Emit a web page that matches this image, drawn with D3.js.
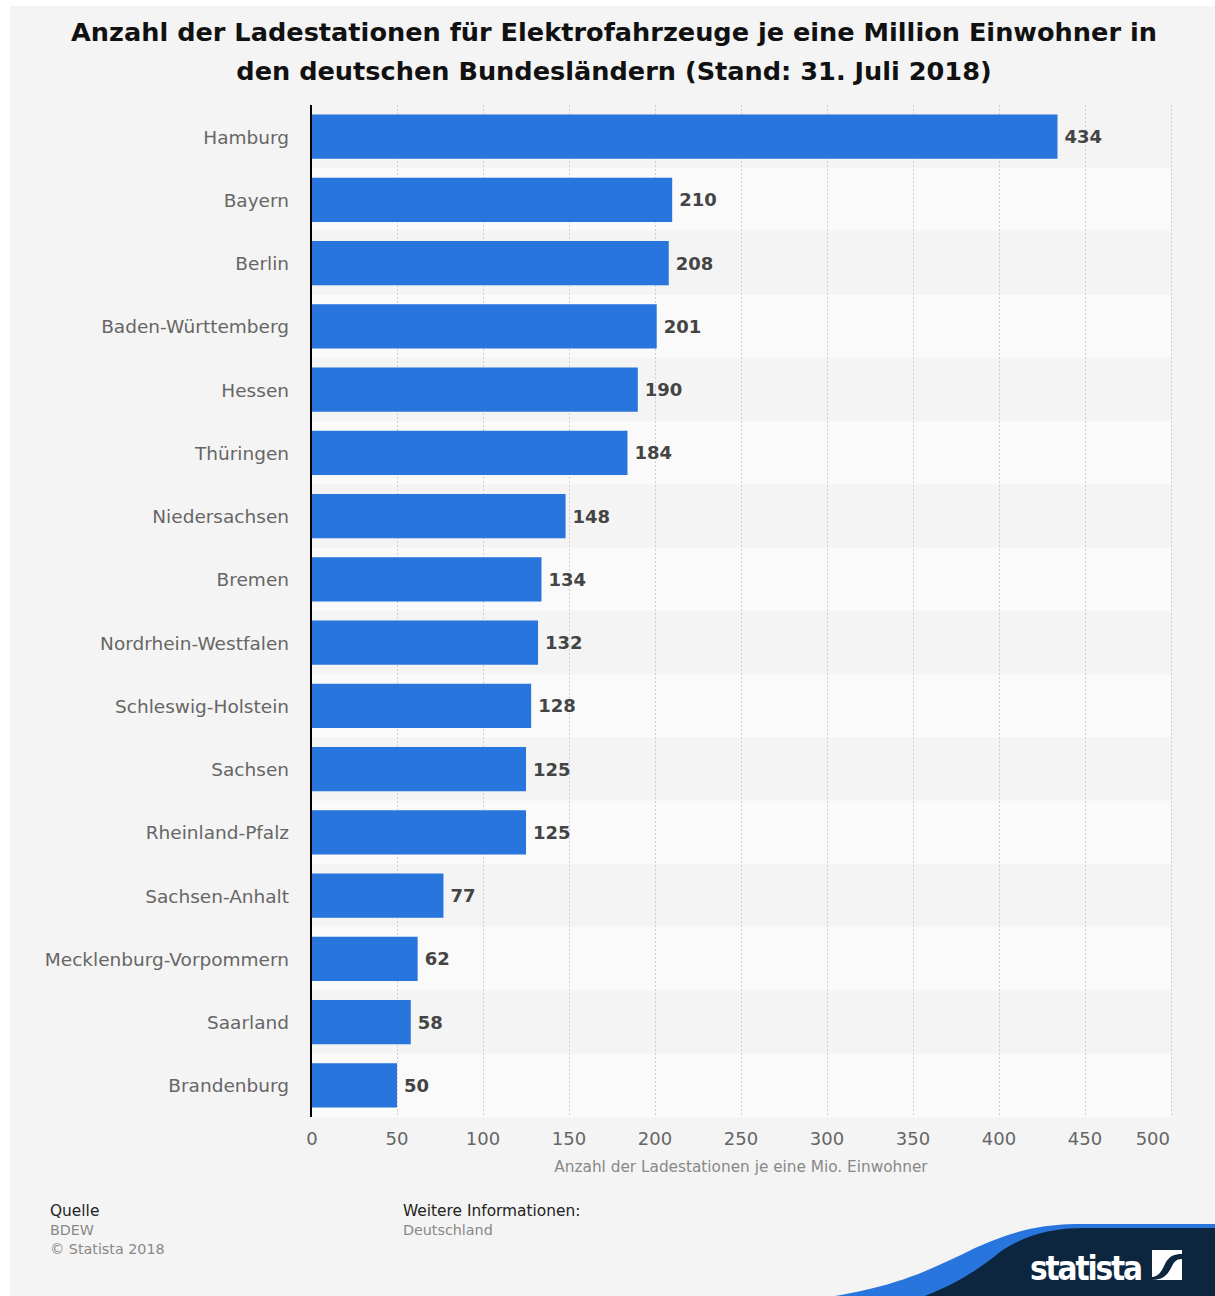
<!DOCTYPE html>
<html>
<head>
<meta charset="utf-8">
<script src="https://cdn.jsdelivr.net/npm/d3@7"></script>
<style>
  body { margin: 0; background: #fff; }
  svg { display: block; font-family: "DejaVu Sans", sans-serif; }
</style>
</head>
<body>
<svg id="chart" width="1215" height="1296"></svg>
<script>
// data
var states = ['Hamburg', 'Bayern', 'Berlin', 'Baden-Württemberg', 'Hessen', 'Thüringen',
  'Niedersachsen', 'Bremen', 'Nordrhein-Westfalen', 'Schleswig-Holstein', 'Sachsen',
  'Rheinland-Pfalz', 'Sachsen-Anhalt', 'Mecklenburg-Vorpommern', 'Saarland', 'Brandenburg'];
var stations = [434, 210, 208, 201, 190, 184, 148, 134, 132, 128, 125, 125, 77, 62, 58, 50];
var xTicks = [0, 50, 100, 150, 200, 250, 300, 350, 400, 450, 500];
var titleLines = ['Anzahl der Ladestationen für Elektrofahrzeuge je eine Million Einwohner in',
  'den deutschen Bundesländern (Stand: 31. Juli 2018)'];
var xTitle = 'Anzahl der Ladestationen je eine Mio. Einwohner';

var svg = d3.select('#chart');

svg.append('rect')
  .attr('x', 10).attr('y', 6)
  .attr('width', 1205).attr('height', 1290)
  .attr('fill', '#f4f4f4');

var x = d3.scaleLinear().domain([0, 500]).range([311, 1171]);
var y = d3.scaleBand().domain(states).range([105, 1117]).paddingInner(0.3).paddingOuter(0.15);
var step = y.step();

// title
svg.selectAll('.title')
  .data(titleLines)
  .enter().append('text')
  .attr('x', 614)
  .attr('y', function(d, i) { return 41 + i * 39; })
  .attr('text-anchor', 'middle')
  .attr('font-size', 25.6)
  .attr('font-weight', 'bold')
  .attr('fill', '#111')
  .text(function(d) { return d; });

// alternating row bands
svg.selectAll('.band')
  .data(states)
  .enter().append('rect')
  .attr('x', x(0))
  .attr('y', function(d) { return y(d) - step * y.paddingInner() / 2; })
  .attr('width', x(500) - x(0))
  .attr('height', step)
  .attr('fill', function(d, i) { return i % 2 ? '#fafafa' : '#f4f4f4'; });

// grid
svg.selectAll('.grid')
  .data(xTicks.slice(1))
  .enter().append('line')
  .attr('x1', function(d) { return x(d) + 0.5; })
  .attr('x2', function(d) { return x(d) + 0.5; })
  .attr('y1', 105).attr('y2', 1117)
  .attr('stroke', '#cfcfcf')
  .attr('stroke-width', 1)
  .attr('stroke-dasharray', '2,2');

// bars
svg.selectAll('.bar')
  .data(states)
  .enter().append('rect')
  .attr('x', x(0))
  .attr('y', function(d) { return y(d); })
  .attr('width', function(d, i) { return x(stations[i]) - x(0); })
  .attr('height', y.bandwidth())
  .attr('fill', '#2876dd');

// value labels
svg.selectAll('.val')
  .data(states)
  .enter().append('text')
  .attr('x', function(d, i) { return x(stations[i]) + 7; })
  .attr('y', function(d) { return y(d) + y.bandwidth() / 2 + 6.5; })
  .attr('font-size', 18)
  .attr('font-weight', 'bold')
  .attr('fill', '#444')
  .text(function(d, i) { return stations[i]; });

// category labels
svg.selectAll('.cat')
  .data(states)
  .enter().append('text')
  .attr('x', 289)
  .attr('y', function(d) { return y(d) + y.bandwidth() / 2 + 7; })
  .attr('text-anchor', 'end')
  .attr('font-size', 18.5)
  .attr('fill', '#666')
  .text(function(d) { return d; });

// axis line
svg.append('line')
  .attr('x1', x(0)).attr('x2', x(0))
  .attr('y1', 105).attr('y2', 1117)
  .attr('stroke', '#000')
  .attr('stroke-width', 2);

// x tick labels
svg.selectAll('.tick')
  .data(xTicks)
  .enter().append('text')
  .attr('x', function(d) { return x(d); })
  .attr('y', 1145)
  .attr('text-anchor', function(d) { return d === 500 ? 'end' : 'middle'; })
  .attr('dx', function(d) { return d === 500 ? -1 : (d === 0 ? 1 : 0); })
  .attr('font-size', 18)
  .attr('fill', '#666')
  .text(function(d) { return d; });

svg.append('text')
  .attr('x', (x(0) + x(500)) / 2)
  .attr('y', 1172)
  .attr('text-anchor', 'middle')
  .attr('font-size', 15.3)
  .attr('fill', '#888')
  .text(xTitle);

// footer
var foot = svg.append('g').attr('font-size', 15.4);
foot.append('text').attr('x', 50).attr('y', 1216).attr('fill', '#222').text('Quelle');
foot.append('text').attr('x', 50).attr('y', 1235).attr('fill', '#888').attr('font-size', 14.3).text('BDEW');
foot.append('text').attr('x', 50).attr('y', 1254).attr('fill', '#888').attr('font-size', 14.3).text('© Statista 2018');
foot.append('text').attr('x', 403).attr('y', 1216).attr('fill', '#222').text('Weitere Informationen:');
foot.append('text').attr('x', 403).attr('y', 1235).attr('fill', '#888').attr('font-size', 14.3).text('Deutschland');

// statista logo
svg.append('path')
  .attr('d', 'M835,1296 C900,1285 930,1270 975,1248 C1015,1230 1040,1225 1075,1224 L1215,1224 L1215,1296 Z')
  .attr('fill', '#2876dd');
svg.append('path')
  .attr('d', 'M925,1296 C960,1282 980,1268 1000,1252 C1025,1235 1050,1228 1085,1228 L1215,1228 L1215,1296 Z')
  .attr('fill', '#0d2640');
svg.append('text')
  .attr('x', 1030).attr('y', 1280)
  .attr('font-family', '"DejaVu Sans Condensed", "DejaVu Sans", sans-serif')
  .attr('font-weight', 'bold')
  .attr('font-size', 33)
  .attr('textLength', 113)
  .attr('fill', '#fff')
  .text('statista');
svg.append('rect')
  .attr('x', 1152).attr('y', 1250).attr('width', 30).attr('height', 30)
  .attr('fill', '#fff');
svg.append('path')
  .attr('d', 'M1152,1277 C1160,1276 1162,1270 1166,1262 C1170,1256 1174,1254 1182,1254 L1182,1259 C1176,1259 1174,1262 1171,1268 C1167,1276 1162,1280 1152,1280 Z')
  .attr('fill', '#0d2640');
</script>
</body>
</html>
